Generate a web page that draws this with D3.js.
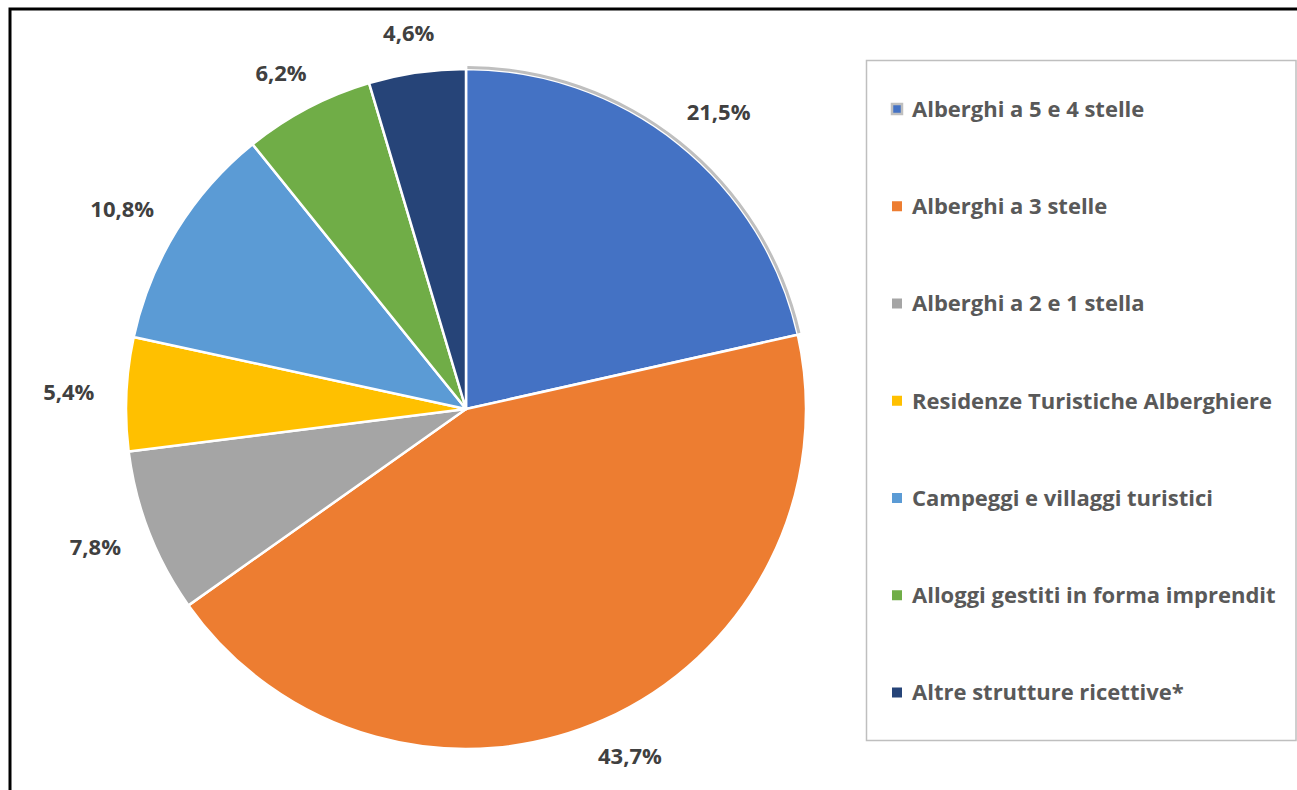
<!DOCTYPE html>
<html>
<head>
<meta charset="utf-8">
<script src="https://cdn.jsdelivr.net/npm/d3@7"></script>
<style>
  body { margin: 0; background: #fff; }
  svg { display: block; }
</style>
</head>
<body>
<svg id="chart" width="1297" height="790"></svg>
<script>
// dati
const categorie = ["Alberghi a 5 e 4 stelle", "Alberghi a 3 stelle", "Alberghi a 2 e 1 stella",
  "Residenze Turistiche Alberghiere", "Campeggi e villaggi turistici",
  "Alloggi gestiti in forma imprendit", "Altre strutture ricettive*"];
const valori = [21.5, 43.7, 7.8, 5.4, 10.8, 6.2, 4.6];
const etichette = ["21,5%", "43,7%", "7,8%", "5,4%", "10,8%", "6,2%", "4,6%"];
const colori = ["#4472C4", "#ED7D31", "#A5A5A5", "#FFC000", "#5B9BD5", "#70AD47", "#264478"];

const svg = d3.select("#chart");

// cornice nera
svg.append("rect")
  .attr("x", 10).attr("y", 9)
  .attr("width", 1320).attr("height", 820)
  .attr("fill", "none").attr("stroke", "#000").attr("stroke-width", 3);

const cx = 466, cy = 409, r = 340;
const g = svg.append("g").attr("transform", `translate(${cx},${cy})`);

const pie = d3.pie().sort(null).value(d => d);
const arcs = pie(valori);
const arc = d3.arc().innerRadius(0).outerRadius(r);
const gap = 32; // distanza etichette dal bordo
const fontEtichette = 22;

g.selectAll("path.fetta")
  .data(arcs)
  .enter()
  .append("path")
  .attr("class", "fetta")
  .attr("d", arc)
  .attr("fill", (d, i) => colori[i])
  .attr("stroke", "#fff")
  .attr("stroke-width", 2.5)
  .attr("stroke-linejoin", "round");

// contorno grigio della fetta selezionata
g.append("path")
  .attr("d", d3.arc().innerRadius(r).outerRadius(r + 3)
    .startAngle(arcs[0].startAngle + 0.004).endAngle(arcs[0].endAngle - 0.004)())
  .attr("fill", "#BFBFBF");

// etichette fuori dalla torta, spostate di mezza larghezza/altezza lungo la direzione
g.selectAll("text.etichetta")
  .data(arcs)
  .enter()
  .append("text")
  .attr("class", "etichetta")
  .attr("text-anchor", "middle")
  .attr("dy", "0.36em")
  .attr("font-family", "'Open Sans', sans-serif")
  .attr("font-weight", "bold")
  .attr("font-size", fontEtichette)
  .attr("fill", "#404040")
  .text((d, i) => etichette[i])
  .each(function (d) {
    const a = (d.startAngle + d.endAngle) / 2;
    const s = Math.sin(a), c = -Math.cos(a);
    const w = this.getComputedTextLength();
    const h = fontEtichette * 0.72;
    const x = (r + gap) * s + s * w / 2;
    const y = (r + gap) * c + c * h / 2;
    d3.select(this).attr("transform", `translate(${x},${y})`);
  });

// legenda
svg.append("rect")
  .attr("x", 866.5).attr("y", 60.5)
  .attr("width", 429.5).attr("height", 680)
  .attr("fill", "#fff").attr("stroke", "#BFBFBF").attr("stroke-width", 1.5);

const yLeg = d3.scalePoint().domain(categorie).range([109, 692.5]);

const voci = svg.selectAll("g.voce")
  .data(categorie)
  .enter()
  .append("g")
  .attr("class", "voce")
  .attr("transform", d => `translate(892,${yLeg(d)})`);

voci.append("rect")
  .attr("x", 0).attr("y", -5)
  .attr("width", 10).attr("height", 10)
  .attr("fill", (d, i) => colori[i])
  .attr("stroke", (d, i) => i === 0 ? "#BFBFBF" : "none")
  .attr("stroke-width", 2.5);

voci.append("text")
  .attr("x", 20)
  .attr("dy", "0.36em")
  .attr("font-family", "'Open Sans', sans-serif")
  .attr("font-weight", "bold")
  .attr("font-size", 22)
  .attr("fill", "#595959")
  .text(d => d);
</script>
</body>
</html>
